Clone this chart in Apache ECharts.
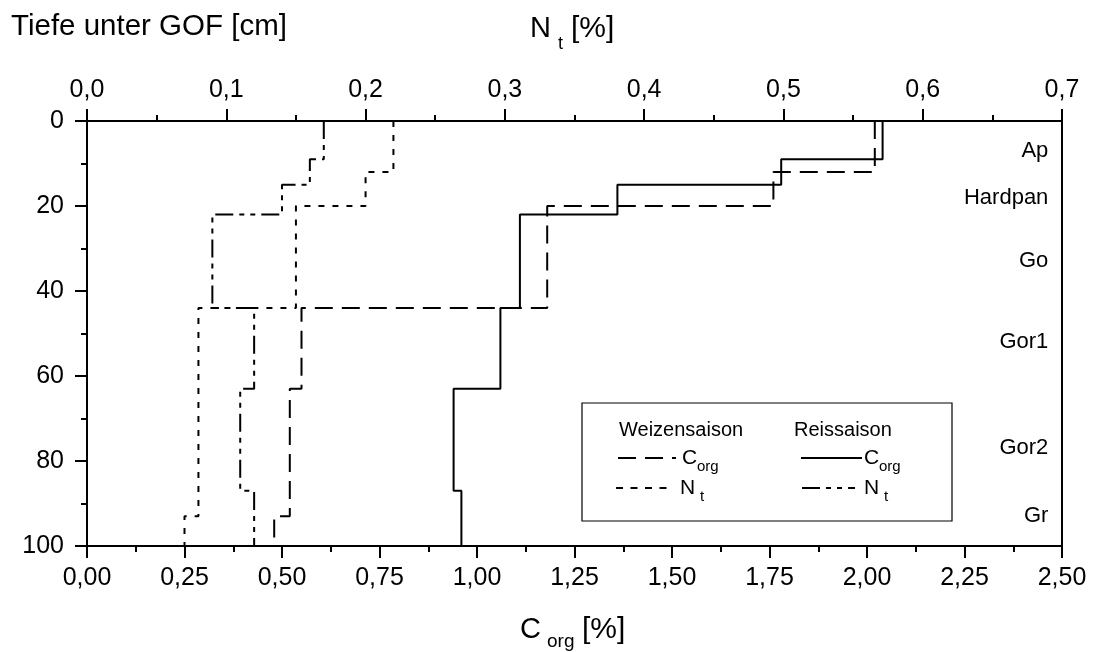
<!DOCTYPE html>
<html>
<head>
<meta charset="utf-8">
<script src="https://cdn.jsdelivr.net/npm/echarts@6/dist/echarts.min.js"></script>
<style>
html,body{margin:0;padding:0;background:#fff;}
#c{width:1095px;height:652px;}
</style>
</head>
<body>
<div id="c"></div>
<script>
// ---- data ----
const depthWeizenC = [0, 12, 20, 44, 63, 93, 100];
const corgWeizen   = [2.02, 1.76, 1.18, 0.55, 0.52, 0.48];
const depthWeizenN = [0, 12, 20, 44, 93, 100];
const ntWeizen     = [0.22, 0.20, 0.15, 0.08, 0.07];
const depthReis    = [0, 9, 15, 22, 44, 63, 87, 100];
const corgReis     = [2.04, 1.78, 1.36, 1.11, 1.06, 0.94, 0.96];
const ntReis       = [0.17, 0.16, 0.14, 0.09, 0.12, 0.11, 0.12];
const horizonNames  = ['Ap', 'Hardpan', 'Go', 'Gor1', 'Gor2', 'Gr'];
const horizonDepths = [7, 18, 33, 52, 77, 93];

const FONT = '"Liberation Sans", Arial, Helvetica, sans-serif';

function profile(bounds, vals) {
  const pts = [];
  for (let i = 0; i < vals.length; i++) {
    pts.push([vals[i], bounds[i]]);
    pts.push([vals[i], bounds[i + 1]]);
  }
  return pts;
}

const chart = echarts.init(document.getElementById('c'), null, {renderer: 'canvas'});

const axisLine = {show: true, onZero: false, lineStyle: {color: '#000', width: 2}};
const tickStyle = {color: '#000', width: 2};

function txt(text, x, y, size, align) {
  return {
    type: 'text', x: x, y: y, silent: true,
    style: {text: text, fontSize: size, fontFamily: FONT, fill: '#000',
            align: align || 'left', verticalAlign: 'middle',
            textAlign: align || 'left', textVerticalAlign: 'middle'}
  };
}
function seg(x1, x2, y, dash) {
  return {
    type: 'line', silent: true,
    shape: {x1: x1, y1: y, x2: x2, y2: y},
    style: {stroke: '#000', lineWidth: 2, lineDash: dash || null}
  };
}

const option = {
  animation: false,
  backgroundColor: '#fff',
  grid: {left: 87, right: 33, top: 121, bottom: 106, containLabel: false},
  xAxis: [
    {
      type: 'value', position: 'bottom', min: 0, max: 2.5, interval: 0.25,
      axisLine: axisLine,
      axisTick: {show: true, inside: false, length: 12, lineStyle: tickStyle},
      minorTick: {show: true, splitNumber: 2, length: 6, lineStyle: tickStyle},
      splitLine: {show: false},
      axisLabel: {margin: 20, fontSize: 25, fontFamily: FONT, color: '#000',
        formatter: v => v.toFixed(2).replace('.', ',')}
    },
    {
      type: 'value', position: 'top', min: 0, max: 0.7, interval: 0.1,
      axisLine: axisLine,
      axisTick: {show: true, inside: false, length: 12, lineStyle: tickStyle},
      minorTick: {show: true, splitNumber: 2, length: 6, lineStyle: tickStyle},
      splitLine: {show: false},
      axisLabel: {margin: 18, fontSize: 25, fontFamily: FONT, color: '#000',
        formatter: v => v.toFixed(1).replace('.', ',')}
    }
  ],
  yAxis: [
    {
      type: 'value', inverse: true, min: 0, max: 100, interval: 20, position: 'left',
      axisLine: axisLine,
      axisTick: {show: true, inside: false, length: 12, lineStyle: tickStyle},
      minorTick: {show: true, splitNumber: 2, length: 6, lineStyle: tickStyle},
      splitLine: {show: false},
      axisLabel: {margin: 23, fontSize: 25, fontFamily: FONT, color: '#000'}
    },
    {
      type: 'value', inverse: true, min: 0, max: 100, position: 'right',
      axisLine: axisLine,
      axisTick: {show: false}, axisLabel: {show: false}, splitLine: {show: false}
    }
  ],
  series: [
    {
      name: 'Weizensaison Corg', type: 'line', xAxisIndex: 0, yAxisIndex: 0,
      data: profile(depthWeizenC, corgWeizen), symbol: 'none',
      lineStyle: {color: '#000', width: 2, type: [18, 9]}
    },
    {
      name: 'Weizensaison Nt', type: 'line', xAxisIndex: 1, yAxisIndex: 0,
      data: profile(depthWeizenN, ntWeizen), symbol: 'none',
      lineStyle: {color: '#000', width: 2, type: [6, 8]}
    },
    {
      name: 'Reissaison Corg', type: 'line', xAxisIndex: 0, yAxisIndex: 0,
      data: profile(depthReis, corgReis), symbol: 'none',
      lineStyle: {color: '#000', width: 2, type: 'solid'}
    },
    {
      name: 'Reissaison Nt', type: 'line', xAxisIndex: 1, yAxisIndex: 0,
      data: profile(depthReis, ntReis), symbol: 'none',
      lineStyle: {color: '#000', width: 2, type: [18, 6, 5, 6, 5, 6]}
    },
    {
      name: 'Horizonte', type: 'scatter', xAxisIndex: 0, yAxisIndex: 0,
      symbolSize: 0, silent: true,
      itemStyle: {opacity: 1, color: '#000'},
      data: horizonNames.map((n, i) => ({name: n, value: [2.465, horizonDepths[i]]})),
      label: {show: true, position: 'left', distance: 0, formatter: p => p.name,
        fontSize: 22, fontFamily: FONT, color: '#000', opacity: 1}
    }
  ],
  graphic: [
    txt('Tiefe unter GOF [cm]', 11, 27, 29.5),
    txt('N', 530, 29, 29),
    txt('t', 558, 44, 18),
    txt('[%]', 571, 29, 30),
    txt('C', 520, 630, 29),
    txt('org', 547, 642, 19),
    txt('[%]', 582, 630, 30),
    {
      type: 'rect', silent: true, z: 50,
      shape: {x: 582, y: 403, width: 370, height: 118},
      style: {fill: '#fff', stroke: '#000', lineWidth: 1.2}
    },
    Object.assign(txt('Weizensaison', 619, 430, 20), {z: 51}),
    Object.assign(txt('Reissaison', 794, 430, 20), {z: 51}),
    Object.assign(seg(618, 676, 458, [18, 9]), {z: 51}),
    Object.assign(txt('C', 682, 458, 21), {z: 51}),
    Object.assign(txt('org', 697, 467, 15), {z: 51}),
    Object.assign(seg(801, 862, 458, null), {z: 51}),
    Object.assign(txt('C', 864, 458, 21), {z: 51}),
    Object.assign(txt('org', 879, 467, 15), {z: 51}),
    Object.assign(seg(616, 670, 488, [7, 7.5]), {z: 51}),
    Object.assign(txt('N', 680, 488, 21), {z: 51}),
    Object.assign(txt('t', 700, 497, 15), {z: 51}),
    Object.assign(seg(802, 855, 488, [18, 6, 5, 6, 5, 6]), {z: 51}),
    Object.assign(txt('N', 864, 488, 21), {z: 51}),
    Object.assign(txt('t', 884, 497, 15), {z: 51})
  ]
};
chart.setOption(option);
</script>
</body>
</html>
